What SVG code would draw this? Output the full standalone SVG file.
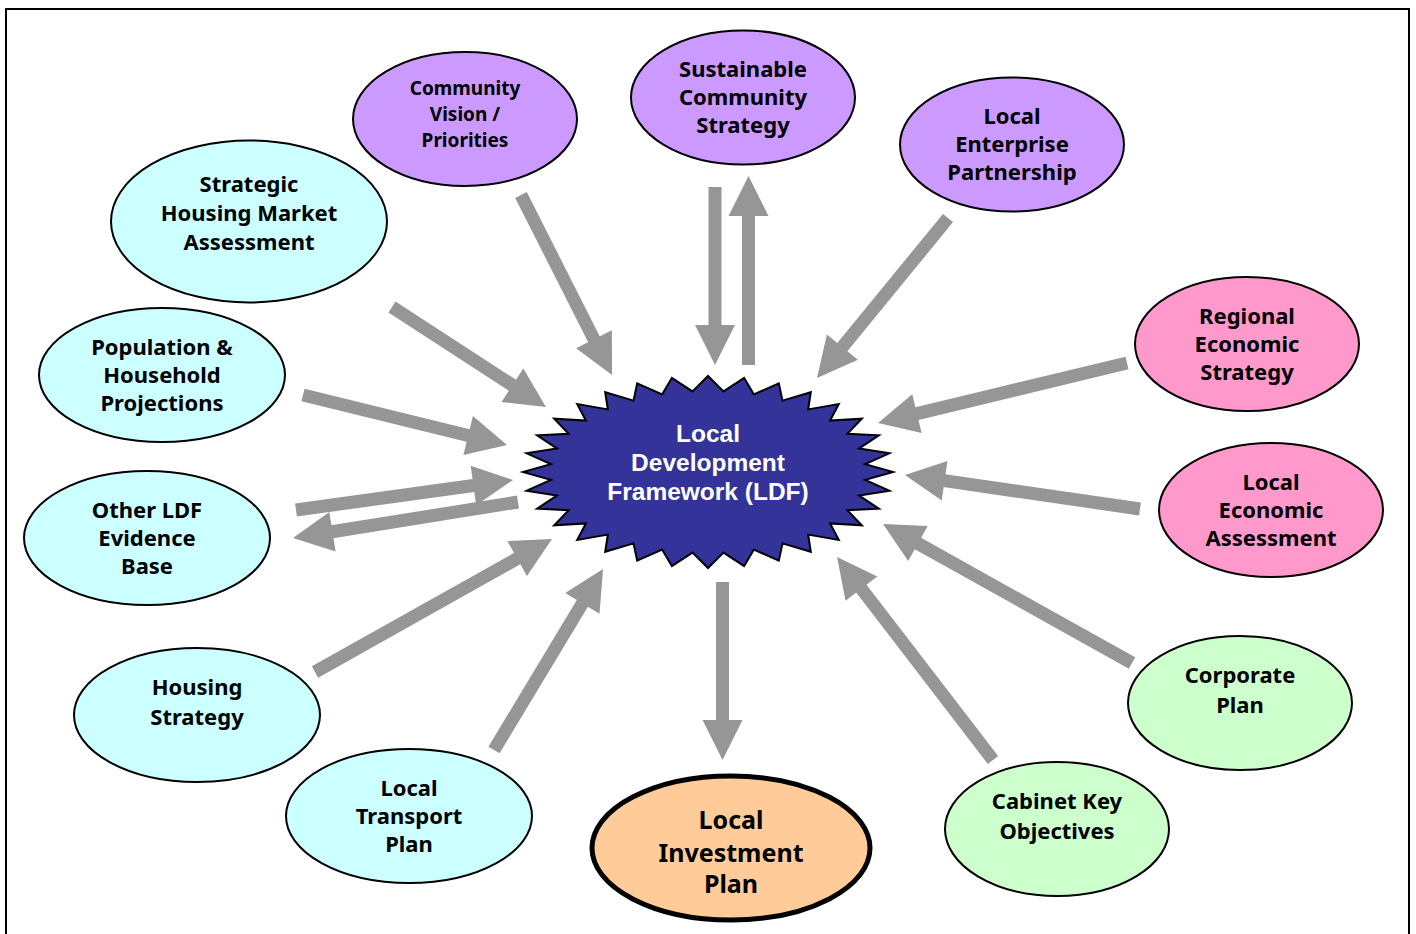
<svg xmlns="http://www.w3.org/2000/svg" width="1416" height="934" viewBox="0 0 1416 934">
<style>
.node ellipse{stroke:#000;stroke-width:2}
.purple{fill:#CC99FF}.cyan{fill:#CCFFFF}.pink{fill:#FF99CC}.green{fill:#CCFFCC}.orange{fill:#FFCC99}
.t{font-family:"Noto Sans","Open Sans","DejaVu Sans",sans-serif;font-weight:bold;font-size:22px;fill:#000;text-anchor:middle;dominant-baseline:central}
.ts{font-size:19px}
.tl{font-size:25px}
.ldf{font-family:"Liberation Sans",Arial,sans-serif;font-weight:bold;font-size:24.5px;fill:#fff;text-anchor:middle;dominant-baseline:central}
.conn line{stroke:#969696;stroke-width:13;marker-end:url(#ah)}
</style>
<defs>
<marker id="ah" markerUnits="userSpaceOnUse" markerWidth="40" markerHeight="40" viewBox="0 -20 40 40" refX="2" refY="0" orient="auto" overflow="visible">
<path d="M0,-20 L40,0 L0,20 z" fill="#969696"/>
</marker>
</defs>
<rect width="1416" height="934" fill="#fff"/>
<path d="M6,940 V9 H1409 V940" fill="none" stroke="#000" stroke-width="2"/>

<g id="connectors" class="conn">
<line x1="521" y1="195" x2="594.9" y2="341.1"/>
<line x1="392" y1="307" x2="514.1" y2="386.3"/>
<line x1="715" y1="187" x2="715" y2="327"/>
<line x1="748.5" y1="365" x2="748.5" y2="214"/>
<line x1="948" y1="218" x2="841.1" y2="348.6"/>
<line x1="1127" y1="363" x2="915" y2="414.1"/>
<line x1="303" y1="395" x2="470.1" y2="436"/>
<line x1="296" y1="510" x2="475.4" y2="485.2"/>
<line x1="518" y1="502" x2="330.5" y2="532"/>
<line x1="315" y1="672" x2="518.9" y2="557.6"/>
<line x1="494" y1="750" x2="583.4" y2="601.6"/>
<line x1="1140" y1="509" x2="942.6" y2="480.4"/>
<line x1="1132" y1="663" x2="916.2" y2="542.5"/>
<line x1="993" y1="760" x2="860.2" y2="587.1"/>
<line x1="722.5" y1="582" x2="722.5" y2="722"/>
</g>

<g id="ldf">
<polygon fill="#333399" stroke="#000" stroke-width="2" stroke-linejoin="miter" points="893,472 865.2,479.9 889.4,490.7 859.2,495.5 878.9,508.7 847.3,510.2 861.8,525.3 830.1,523.4 838.8,539.9 808.2,534.6 810.8,551.8 782.5,543.4 778.8,560.7 753.9,549.5 744.1,566.2 723.5,552.6 708,568 692.5,552.6 671.9,566.2 662.1,549.5 637.2,560.7 633.5,543.4 605.2,551.8 607.8,534.6 577.2,539.9 585.9,523.4 554.2,525.3 568.7,510.2 537.1,508.7 556.8,495.5 526.6,490.7 550.8,479.9 523,472 550.8,464.1 526.6,453.3 556.8,448.5 537.1,435.3 568.7,433.8 554.2,418.7 585.9,420.6 577.2,404.1 607.8,409.4 605.2,392.2 633.5,400.6 637.2,383.3 662.1,394.5 671.9,377.8 692.5,391.4 708,376 723.5,391.4 744.1,377.8 753.9,394.5 778.8,383.3 782.5,400.6 810.8,392.2 808.2,409.4 838.8,404.1 830.1,420.6 861.8,418.7 847.3,433.8 878.9,435.3 859.2,448.5 889.4,453.3 865.2,464.1"/>
<text class="ldf" x="708" y="433">Local</text>
<text class="ldf" x="708" y="462">Development</text>
<text class="ldf" x="708" y="491">Framework (LDF)</text>
</g>

<g id="community-vision" class="node">
<ellipse class="purple" cx="465" cy="119" rx="112" ry="67"/>
<text class="t ts" x="465" y="88">Community</text>
<text class="t ts" x="465" y="114">Vision /</text>
<text class="t ts" x="465" y="140">Priorities</text>
</g>
<g id="sustainable-community-strategy" class="node">
<ellipse class="purple" cx="743" cy="97.5" rx="112" ry="67"/>
<text class="t" x="743" y="68">Sustainable</text>
<text class="t" x="743" y="96">Community</text>
<text class="t" x="743" y="124">Strategy</text>
</g>
<g id="local-enterprise-partnership" class="node">
<ellipse class="purple" cx="1012" cy="144.5" rx="112" ry="67"/>
<text class="t" x="1012" y="115">Local</text>
<text class="t" x="1012" y="143">Enterprise</text>
<text class="t" x="1012" y="171">Partnership</text>
</g>
<g id="strategic-housing-market-assessment" class="node">
<ellipse class="cyan" cx="249" cy="221.5" rx="138" ry="81"/>
<text class="t" x="249" y="183">Strategic</text>
<text class="t" x="249" y="212">Housing Market</text>
<text class="t" x="249" y="241">Assessment</text>
</g>
<g id="population-household-projections" class="node">
<ellipse class="cyan" cx="162" cy="375" rx="123" ry="67"/>
<text class="t" x="162" y="346">Population &amp;</text>
<text class="t" x="162" y="374">Household</text>
<text class="t" x="162" y="402">Projections</text>
</g>
<g id="other-ldf-evidence-base" class="node">
<ellipse class="cyan" cx="147" cy="538" rx="123" ry="67"/>
<text class="t" x="147" y="509">Other LDF</text>
<text class="t" x="147" y="537">Evidence</text>
<text class="t" x="147" y="565">Base</text>
</g>
<g id="housing-strategy" class="node">
<ellipse class="cyan" cx="197" cy="715" rx="123" ry="67"/>
<text class="t" x="197" y="686">Housing</text>
<text class="t" x="197" y="716">Strategy</text>
</g>
<g id="local-transport-plan" class="node">
<ellipse class="cyan" cx="409" cy="816" rx="123" ry="67"/>
<text class="t" x="409" y="787">Local</text>
<text class="t" x="409" y="815">Transport</text>
<text class="t" x="409" y="843">Plan</text>
</g>
<g id="local-investment-plan" class="node">
<ellipse class="orange" cx="731" cy="848" rx="139" ry="72" style="stroke-width:5"/>
<text class="t tl" x="731" y="819">Local</text>
<text class="t tl" x="731" y="852">Investment</text>
<text class="t tl" x="731" y="883">Plan</text>
</g>
<g id="cabinet-key-objectives" class="node">
<ellipse class="green" cx="1057" cy="829" rx="112" ry="67"/>
<text class="t" x="1057" y="800">Cabinet Key</text>
<text class="t" x="1057" y="830">Objectives</text>
</g>
<g id="corporate-plan" class="node">
<ellipse class="green" cx="1240" cy="703" rx="112" ry="67"/>
<text class="t" x="1240" y="674">Corporate</text>
<text class="t" x="1240" y="704">Plan</text>
</g>
<g id="local-economic-assessment" class="node">
<ellipse class="pink" cx="1271" cy="510" rx="112" ry="67"/>
<text class="t" x="1271" y="481">Local</text>
<text class="t" x="1271" y="509">Economic</text>
<text class="t" x="1271" y="537">Assessment</text>
</g>
<g id="regional-economic-strategy" class="node">
<ellipse class="pink" cx="1247" cy="344" rx="112" ry="67"/>
<text class="t" x="1247" y="315">Regional</text>
<text class="t" x="1247" y="343">Economic</text>
<text class="t" x="1247" y="371">Strategy</text>
</g>
</svg>
